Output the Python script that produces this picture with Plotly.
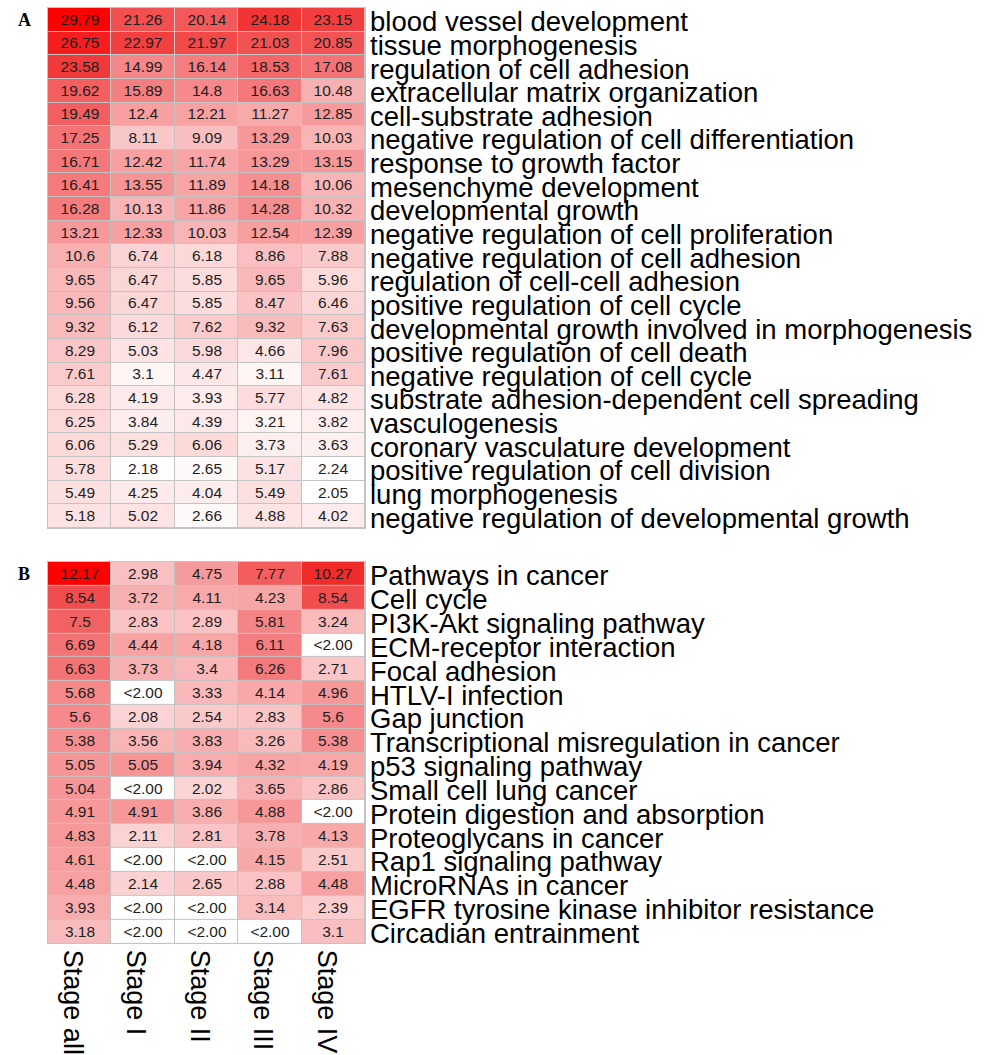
import plotly.graph_objects as go

# ---- data -----------------------------------------------------------------
stages = ["Stage all", "Stage I", "Stage II", "Stage III", "Stage IV"]

go_terms = [
    "blood vessel development",
    "tissue morphogenesis",
    "regulation of cell adhesion",
    "extracellular matrix organization",
    "cell-substrate adhesion",
    "negative regulation of cell differentiation",
    "response to growth factor",
    "mesenchyme development",
    "developmental growth",
    "negative regulation of cell proliferation",
    "negative regulation of cell adhesion",
    "regulation of cell-cell adhesion",
    "positive regulation of cell cycle",
    "developmental growth involved in morphogenesis",
    "positive regulation of cell death",
    "negative regulation of cell cycle",
    "substrate adhesion-dependent cell spreading",
    "vasculogenesis",
    "coronary vasculature development",
    "positive regulation of cell division",
    "lung morphogenesis",
    "negative regulation of developmental growth",
]

go_values = [
    [29.79, 21.26, 20.14, 24.18, 23.15],
    [26.75, 22.97, 21.97, 21.03, 20.85],
    [23.58, 14.99, 16.14, 18.53, 17.08],
    [19.62, 15.89, 14.8, 16.63, 10.48],
    [19.49, 12.4, 12.21, 11.27, 12.85],
    [17.25, 8.11, 9.09, 13.29, 10.03],
    [16.71, 12.42, 11.74, 13.29, 13.15],
    [16.41, 13.55, 11.89, 14.18, 10.06],
    [16.28, 10.13, 11.86, 14.28, 10.32],
    [13.21, 12.33, 10.03, 12.54, 12.39],
    [10.6, 6.74, 6.18, 8.86, 7.88],
    [9.65, 6.47, 5.85, 9.65, 5.96],
    [9.56, 6.47, 5.85, 8.47, 6.46],
    [9.32, 6.12, 7.62, 9.32, 7.63],
    [8.29, 5.03, 5.98, 4.66, 7.96],
    [7.61, 3.1, 4.47, 3.11, 7.61],
    [6.28, 4.19, 3.93, 5.77, 4.82],
    [6.25, 3.84, 4.39, 3.21, 3.82],
    [6.06, 5.29, 6.06, 3.73, 3.63],
    [5.78, 2.18, 2.65, 5.17, 2.24],
    [5.49, 4.25, 4.04, 5.49, 2.05],
    [5.18, 5.02, 2.66, 4.88, 4.02],
]

kegg_terms = [
    "Pathways in cancer",
    "Cell cycle",
    "PI3K-Akt signaling pathway",
    "ECM-receptor interaction",
    "Focal adhesion",
    "HTLV-I infection",
    "Gap junction",
    "Transcriptional misregulation in cancer",
    "p53 signaling pathway",
    "Small cell lung cancer",
    "Protein digestion and absorption",
    "Proteoglycans in cancer",
    "Rap1 signaling pathway",
    "MicroRNAs in cancer",
    "EGFR tyrosine kinase inhibitor resistance",
    "Circadian entrainment",
]

# None = below the 2.00 cut-off (shown as "<2.00")
kegg_values = [
    [12.17, 2.98, 4.75, 7.77, 10.27],
    [8.54, 3.72, 4.11, 4.23, 8.54],
    [7.5, 2.83, 2.89, 5.81, 3.24],
    [6.69, 4.44, 4.18, 6.11, None],
    [6.63, 3.73, 3.4, 6.26, 2.71],
    [5.68, None, 3.33, 4.14, 4.96],
    [5.6, 2.08, 2.54, 2.83, 5.6],
    [5.38, 3.56, 3.83, 3.26, 5.38],
    [5.05, 5.05, 3.94, 4.32, 4.19],
    [5.04, None, 2.02, 3.65, 2.86],
    [4.91, 4.91, 3.86, 4.88, None],
    [4.83, 2.11, 2.81, 3.78, 4.13],
    [4.61, None, None, 4.15, 2.51],
    [4.48, 2.14, 2.65, 2.88, 4.48],
    [3.93, None, None, 3.14, 2.39],
    [3.18, None, None, None, 3.1],
]

CUTOFF = 2.0

# ---- layout constants (pixels) ---------------------------------------------
W, H = 992, 1055
X0, X1 = 48, 365
A_TOP, A_BOT = 8, 530
B_TOP, B_BOT = 564, 947
GRID = "#c3c3c3"
FONT = "Liberation Sans, Arial, sans-serif"

reds = [
    [0.0, "rgb(255,255,255)"],
    [0.5, "rgb(244,127,129)"],
    [0.85, "rgb(241,40,40)"],
    [1.0, "rgb(255,0,0)"],
]


def fmt(v):
    if v is None:
        return "<%.2f" % CUTOFF
    return ("%g" % v)


def px_x(p):
    return p / W


def px_y(p):
    return 1 - p / H


fig = go.Figure()

# (axis suffix, row labels, values, top px, bottom px, colour floor, panel letter)
panels = [
    ("", go_terms, go_values, A_TOP, A_BOT, 2.0, "A"),
    ("2", kegg_terms, kegg_values, B_TOP, B_BOT, 0.0, "B"),
]

for suffix, terms, values, top, bot, zlo, letter in panels:
    zmax = max(v for row in values for v in row if v is not None)
    # below-cutoff cells are drawn white
    zc = [[(zlo if v is None else v) for v in row] for row in values]
    txt = [[fmt(v) for v in row] for row in values]
    fig.add_trace(go.Heatmap(
        z=zc,
        x=list(range(len(stages))),
        y=list(range(len(terms))),
        text=txt,
        texttemplate="%{text}",
        textfont=dict(family=FONT, size=15.5, color="#1e1e1e"),
        colorscale=reds,
        zmin=zlo, zmax=zmax,
        showscale=False,
        xgap=1, ygap=1,
        hoverinfo="skip",
        xaxis="x" + suffix, yaxis="y" + suffix,
    ))
    for i, t in enumerate(terms):
        fig.add_annotation(
            x=px_x(X1 + 3), xref="paper", xanchor="left",
            y=i, yref="y" + suffix, yanchor="middle", yshift=-2,
            text=t, showarrow=False,
            font=dict(family=FONT, size=27.5, color="black"),
        )
    fig.add_annotation(
        x=px_x(24), xref="paper", xanchor="center",
        y=px_y(top + 12), yref="paper", yanchor="middle",
        text="<b>%s</b>" % letter, showarrow=False,
        font=dict(family="Liberation Serif, Times New Roman, serif", size=18, color="black"),
    )

axis_common = dict(
    showgrid=False, zeroline=False,
    showline=True, mirror=True, linecolor=GRID, linewidth=1,
    ticks="",
)

fig.update_layout(
    width=W, height=H,
    margin=dict(l=0, r=0, t=0, b=0),
    paper_bgcolor="white",
    plot_bgcolor=GRID,
    xaxis=dict(domain=[px_x(X0), px_x(X1)], range=[-0.5, 4.5],
               showticklabels=False, anchor="y", **axis_common),
    yaxis=dict(domain=[px_y(A_BOT), px_y(A_TOP)],
               range=[len(go_terms) - 0.5, -0.5],
               showticklabels=False, anchor="x", **axis_common),
    xaxis2=dict(domain=[px_x(X0), px_x(X1)], range=[-0.5, 4.5],
                tickmode="array", tickvals=list(range(len(stages))),
                ticktext=stages, tickangle=90, ticklabelshift=-7,
                tickfont=dict(family=FONT, size=27, color="black"),
                anchor="y2", **axis_common),
    yaxis2=dict(domain=[px_y(B_BOT), px_y(B_TOP)],
                range=[len(kegg_terms) - 0.5, -0.5],
                showticklabels=False, anchor="x2", **axis_common),
)

fig.write_html("out.html")
